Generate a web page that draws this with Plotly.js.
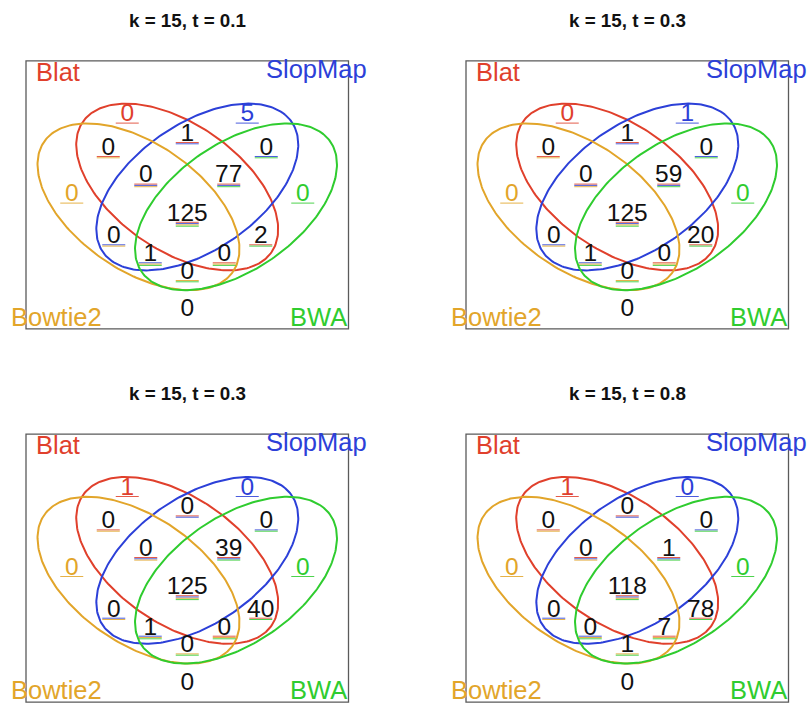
<!DOCTYPE html>
<html><head><meta charset="utf-8">
<script src="https://cdn.plot.ly/plotly-3.0.1.min.js"></script>
<style>html,body{margin:0;padding:0;background:#fff}#chart{width:809px;height:704px}</style>
</head><body><div id="chart"></div>
<script>
// ---------------- data ----------------
const setNames = ["Blat", "SlopMap", "Bowtie2", "BWA"];
const panelTitles = ["k = 15, t = 0.1", "k = 15, t = 0.3", "k = 15, t = 0.3", "k = 15, t = 0.8"];
const regionSets = ["Blat", "SlopMap", "Blat&SlopMap", "Bowtie2&Blat", "SlopMap&BWA", "Bowtie2", "BWA",
  "Bowtie2&Blat&SlopMap", "Blat&SlopMap&BWA", "Bowtie2&Blat&SlopMap&BWA", "Bowtie2&SlopMap", "Blat&BWA",
  "Bowtie2&SlopMap&BWA", "Bowtie2&Blat&BWA", "Bowtie2&BWA", ""];
const countsT01 = [0, 5, 1, 0, 0, 0, 0, 0, 77, 125, 0, 2, 1, 0, 0, 0];
const countsT03a = [0, 1, 1, 0, 0, 0, 0, 0, 59, 125, 0, 20, 1, 0, 0, 0];
const countsT03b = [1, 0, 0, 0, 0, 0, 0, 0, 39, 125, 0, 40, 1, 0, 0, 0];
const countsT08 = [1, 0, 0, 0, 0, 0, 0, 0, 1, 118, 0, 78, 0, 7, 1, 0];
const panelCounts = [countsT01, countsT03a, countsT03b, countsT08];

// ---------------- styles / geometry ----------------
const setColors = {Blat: "#E0402C", SlopMap: "#2C40D8", Bowtie2: "#E2A52A", BWA: "#2FCC2F"};
const FONT = "'Liberation Sans', Arial, Helvetica, sans-serif";
const W = 809, H = 704;
const BOX_W = 322.5, BOX_H = 268;
const panelBoxes = [[26, 60.8], [466, 60.8], [26, 434.2], [466, 434.2]];
const CX = BOX_W / 2;
// region label positions: [dx from box centre, y from box top] (px)
const regionPos = [[-60, 54.5], [60, 54.5], [0, 73.9], [-79, 87.9], [79, 87.9], [-115.5, 134.5], [115.5, 134.5],
  [-41.5, 115.5], [41.5, 115.5], [0, 153.7], [-73.5, 176.2], [73.5, 176.2], [-37, 194.2], [37, 194.2], [0, 211.9], [0, 249.5]];
const ellipseGeom = {
  Blat: {cx: 151.2, cy: 126.2, phi: 45},
  SlopMap: {cx: 171.3, cy: 126.2, phi: -45},
  Bowtie2: {cx: 112.5, cy: 146, phi: 45},
  BWA: {cx: 210, cy: 146, phi: -45}
};
const ES = {sx: 101, sy: 83.4, a: 1.2276, b: 0.7016};
const labelGeom = {
  Blat: {x: 9.5, y: 11.2, xa: "left"},
  SlopMap: {x: 341, y: 7.9, xa: "right"},
  Bowtie2: {x: -15, y: 255.8, xa: "left"},
  BWA: {x: 320.5, y: 255.8, xa: "right"}
};

function toPaper(p, xr, yr) {
  const [l, t] = panelBoxes[p];
  return [(l + xr) / W, 1 - (t + yr) / H];
}

const traces = [];
const annotations = [];
const shapes = [];
const layout = {
  width: W, height: H, margin: {l: 0, r: 0, t: 0, b: 0},
  paper_bgcolor: "#fff", plot_bgcolor: "#fff", showlegend: false,
  font: {family: FONT, color: "#111"}
};

for (let p = 0; p < 4; p++) {
  const sfx = p === 0 ? "" : String(p + 1);
  const [l, t] = panelBoxes[p];
  layout["xaxis" + sfx] = {domain: [l / W, (l + BOX_W) / W], range: [0, BOX_W], anchor: "y" + sfx,
    showgrid: false, zeroline: false, showticklabels: false, ticks: "", showline: false, fixedrange: true};
  layout["yaxis" + sfx] = {domain: [1 - (t + BOX_H) / H, 1 - t / H], range: [BOX_H, 0], anchor: "x" + sfx,
    showgrid: false, zeroline: false, showticklabels: false, ticks: "", showline: false, fixedrange: true};
  const xa = "x" + sfx, ya = "y" + sfx;
  shapes.push({type: "rect", xref: xa + " domain", yref: ya + " domain", x0: 0, x1: 1, y0: 0, y1: 1,
    line: {color: "#5a5a5a", width: 1.3}, layer: "below"});

  // ellipses
  setNames.forEach(s => {
    const g = ellipseGeom[s];
    const ph = g.phi * Math.PI / 180;
    const xs = [], ys = [];
    for (let i = 0; i <= 240; i++) {
      const tt = 2 * Math.PI * i / 240;
      xs.push(g.cx + ES.sx * (ES.a * Math.cos(tt) * Math.cos(ph) - ES.b * Math.sin(tt) * Math.sin(ph)));
      ys.push(g.cy + ES.sy * (ES.a * Math.cos(tt) * Math.sin(ph) + ES.b * Math.sin(tt) * Math.cos(ph)));
    }
    traces.push({type: "scatter", mode: "lines", x: xs, y: ys, xaxis: xa, yaxis: ya,
      line: {color: setColors[s], width: 2}, hoverinfo: "skip", cliponaxis: false});
  });

  // underlines
  setNames.forEach(s => {
    const xs = [], ys = [];
    regionSets.forEach((r, i) => {
      const mem = setNames.filter(n => r.split("&").includes(n));
      const k = mem.indexOf(s);
      if (k < 0) return;
      const x = CX + regionPos[i][0], y = regionPos[i][1] + 7.8 + k * 1.3;
      xs.push(x - 11.5, x + 11.5, null);
      ys.push(y, y, null);
    });
    traces.push({type: "scatter", mode: "lines", x: xs, y: ys, xaxis: xa, yaxis: ya, opacity: 0.85,
      line: {color: setColors[s], width: 1}, hoverinfo: "skip", cliponaxis: false});
  });

  // counts
  const counts = panelCounts[p];
  traces.push({type: "scatter", mode: "text", xaxis: xa, yaxis: ya, cliponaxis: false,
    x: regionPos.map(d => CX + d[0]), y: regionPos.map(d => d[1]),
    text: counts.map(String), textposition: "middle center",
    textfont: {family: FONT, size: 24.5, color: regionSets.map(r => (r && !r.includes("&")) ? setColors[r] : "#111")},
    hoverinfo: "skip"});

  // title
  const tp = toPaper(p, CX, -40.7);
  annotations.push({xref: "paper", yref: "paper", x: tp[0], y: tp[1], xanchor: "center", yanchor: "middle",
    text: panelTitles[p], showarrow: false, borderpad: 0, borderwidth: 0,
    font: {family: FONT, size: 18.8, weight: "bold", color: "#111"}});

  // set labels
  setNames.forEach(s => {
    const g = labelGeom[s];
    const pp = toPaper(p, g.x, g.y);
    annotations.push({xref: "paper", yref: "paper", x: pp[0], y: pp[1], xanchor: g.xa, yanchor: "middle",
      text: s, showarrow: false, borderpad: 0, borderwidth: 0,
      font: {family: FONT, size: 25.5, color: setColors[s]}});
  });
}
layout.annotations = annotations;
layout.shapes = shapes;
Plotly.newPlot("chart", traces, layout, {displayModeBar: false, staticPlot: true});
</script></body></html>
